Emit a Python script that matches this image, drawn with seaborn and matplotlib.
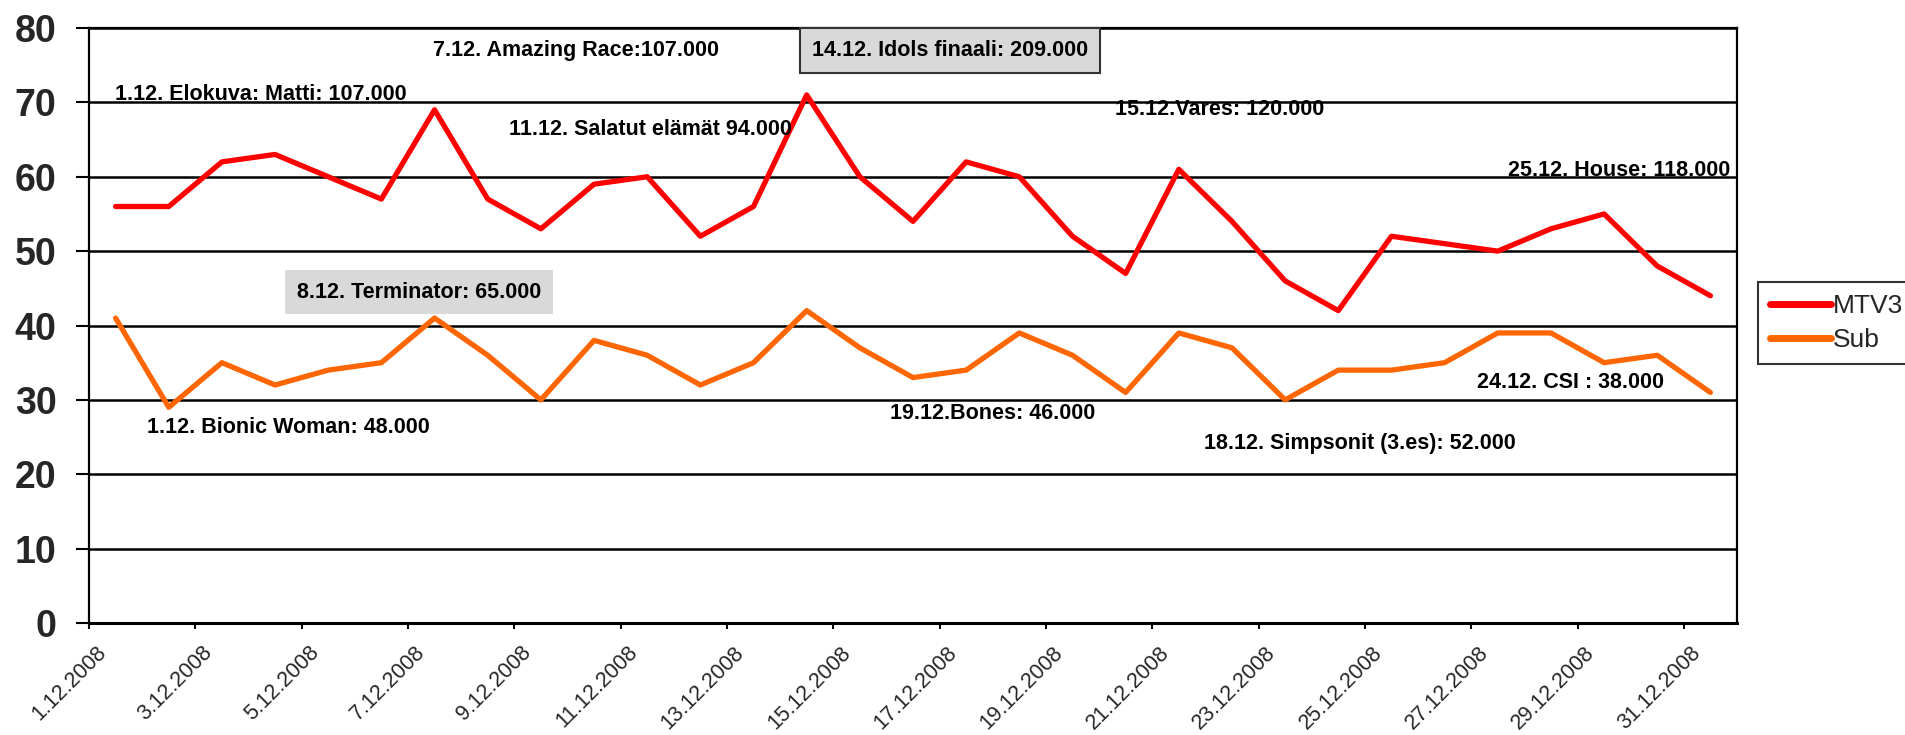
import matplotlib
matplotlib.use("Agg")
import matplotlib.pyplot as plt
import matplotlib.transforms as mtransforms
import seaborn as sns
import pandas as pd
import numpy as np

# ---- data ----
days = [f"{d}.12.2008" for d in range(1, 32)]
mtv3 = [56, 56, 62, 63, 60, 57, 69, 57, 53, 59, 60, 52, 56, 71, 60, 54,
        62, 60, 52, 47, 61, 54, 46, 42, 52, 51, 50, 53, 55, 48, 44]
sub = [41, 29, 35, 32, 34, 35, 41, 36, 30, 38, 36, 32, 35, 42, 37, 33,
       34, 39, 36, 31, 39, 37, 30, 34, 34, 35, 39, 39, 35, 36, 31]
series_names = ["MTV3", "Sub"]
series_colors = ["#FF0000", "#FF6600"]

notes = ["7.12. Amazing Race:107.000", "14.12. Idols finaali: 209.000",
         "1.12. Elokuva: Matti: 107.000", "11.12. Salatut elämät 94.000",
         "15.12.Vares: 120.000", "25.12. House: 118.000",
         "8.12. Terminator: 65.000", "1.12. Bionic Woman: 48.000",
         "19.12.Bones: 46.000", "18.12. Simpsonit (3.es): 52.000",
         "24.12. CSI : 38.000"]

# ---- build frame ----
idx = np.arange(len(days))
df = pd.concat([
    pd.DataFrame({"x": idx, "value": mtv3, "series": series_names[0]}),
    pd.DataFrame({"x": idx, "value": sub, "series": series_names[1]}),
])

sns.set_theme(style="white")
plt.rcParams["font.family"] = ["Liberation Sans", "DejaVu Sans"]

W, H = 1905, 735
fig = plt.figure(figsize=(W / 100, H / 100), dpi=100)
ax = fig.add_axes([89 / W, 1 - 623 / H, (1737 - 89) / W, (623 - 28) / H])

sns.lineplot(data=df, x="x", y="value", hue="series",
             palette=dict(zip(series_names, series_colors)),
             linewidth=3.8, ax=ax, legend=False)

ax.set_xlim(-0.5, len(days) - 0.5)
ax.set_ylim(0, 80)
ax.set_xlabel("")
ax.set_ylabel("")

# y axis
ax.set_yticks(np.arange(0, 81, 10))
ax.tick_params(axis="y", which="major", direction="out", length=9.4, width=1.5,
               left=True, labelsize=27, pad=14, color="black")
for lab in ax.get_yticklabels():
    lab.set_fontweight("bold")
ax.yaxis.grid(True, color="black", linewidth=1.8)
ax.set_axisbelow(True)

# x axis: ticks at category boundaries every 2, labels at category centres
ax.set_xticks(np.arange(-0.5, len(days), 2))
ax.set_xticklabels([])
ax.tick_params(axis="x", which="major", direction="out", length=4.5, width=1.5,
               bottom=True, color="black")
ax.set_xticks(idx[::2], minor=True)
ax.set_xticklabels(days[::2], minor=True, rotation=45, ha="right",
                   va="top", rotation_mode="anchor", fontsize=15.5)
ax.tick_params(axis="x", which="minor", length=0, pad=0)
offset = mtransforms.ScaledTranslation(-20 / 100, -19 / 100, fig.dpi_scale_trans)
for lab in ax.get_xticklabels(minor=True):
    lab.set_transform(lab.get_transform() + offset)

for s in ax.spines.values():
    s.set_visible(True)
    s.set_color("black")
    s.set_linewidth(1.6)
ax.spines["bottom"].set_linewidth(2.2)

# annotations (x in category units, y in data units)
ann_x = [5.97, 13.1, -0.01, 7.4, 18.8, 26.19, 3.41, 0.59, 14.57, 20.47, 25.61]
ann_y = [77.0, 77.0, 71.0, 66.3, 69.0, 60.8, 44.5, 26.35, 28.2, 24.2, 32.4]
for i, (t, xx, yy) in enumerate(zip(notes, ann_x, ann_y)):
    kw = {}
    if i == 1:
        kw["bbox"] = dict(boxstyle="square,pad=0.55", facecolor="#D9D9D9",
                          edgecolor="#333333", linewidth=1.5)
    elif i == 6:
        kw["bbox"] = dict(boxstyle="square,pad=0.55", facecolor="#D9D9D9",
                          edgecolor="none")
    ax.text(xx, yy, t, fontsize=15.5, fontweight="bold", ha="left",
            va="center", color="black", zorder=5, **kw)

# legend
handles = [plt.Line2D([0], [0], color=c, linewidth=5, solid_capstyle="round")
           for c in series_colors]
leg = fig.legend(handles, series_names, loc="upper left",
                 bbox_to_anchor=(1758 / W, 1 - 282 / H), fontsize=19,
                 frameon=True, fancybox=False, handlelength=2.3,
                 handletextpad=0.1, borderpad=0.45, labelspacing=0.4,
                 borderaxespad=0)
leg.get_frame().set_edgecolor("black")
leg.get_frame().set_linewidth(1.5)

fig.savefig("out.png", dpi=100)
